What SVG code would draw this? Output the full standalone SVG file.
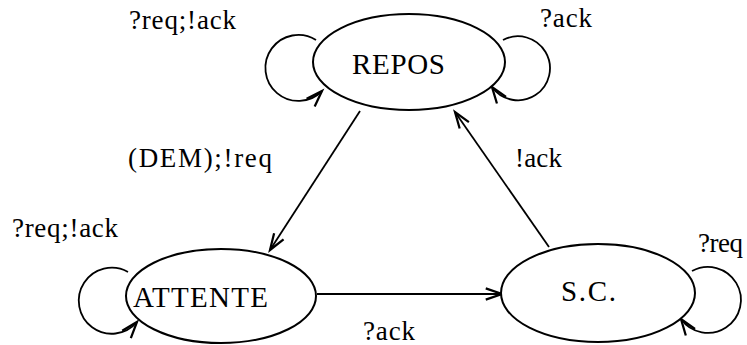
<svg xmlns="http://www.w3.org/2000/svg" width="747" height="345" viewBox="0 0 747 345">
<style>
.node{fill:#fff;stroke:#000;stroke-width:2}
.edge{fill:none;stroke:#000;stroke-width:1.8;marker-end:url(#arr)}
text{font-family:'Liberation Serif','DejaVu Serif','Times New Roman',serif;fill:#000}
.nt{font-size:29px}
.lt{font-size:27px}
</style>
<defs>
<marker id="arr" markerUnits="userSpaceOnUse" markerWidth="20" markerHeight="20" refX="0" refY="0" viewBox="-14 -8 16 16" orient="auto" overflow="visible">
<path d="M-13,-4.5 L0,0 L-13,4.5" fill="none" stroke="#000" stroke-width="1.8"/>
</marker>
</defs>
<rect width="747" height="345" fill="#fff"/>
<g id="connectors">
<path class="edge" d="M316,40 A33,33 0 1 0 322,91"/>
<path class="edge" d="M503,40 A32,32 0 1 1 492,87"/>
<path class="edge" d="M128,272 A33,33 0 1 0 137,322"/>
<path class="edge" d="M692,271 A33,33 0 1 1 681,319"/>
<path class="edge" d="M360,111 L270,250"/>
<path class="edge" d="M549,247 L455,112"/>
<path class="edge" d="M317,294 L502,294"/>
</g>
<g id="labels">
<text class="lt" font-family="Liberation Serif, serif" x="129" y="29" textLength="107" lengthAdjust="spacing">?req;!ack</text>
<text class="lt" font-family="Liberation Serif, serif" x="540" y="27" textLength="52" lengthAdjust="spacing">?ack</text>
<text class="lt" font-family="Liberation Serif, serif" x="128" y="167" textLength="144" lengthAdjust="spacing">(DEM);!req</text>
<text class="lt" font-family="Liberation Serif, serif" x="515" y="167" textLength="47" lengthAdjust="spacing">!ack</text>
<text class="lt" font-family="Liberation Serif, serif" x="12" y="237" textLength="106" lengthAdjust="spacing">?req;!ack</text>
<text class="lt" font-family="Liberation Serif, serif" x="698" y="252" textLength="45" lengthAdjust="spacing">?req</text>
<text class="lt" font-family="Liberation Serif, serif" x="363" y="340" textLength="52" lengthAdjust="spacing">?ack</text>
</g>
<g id="REPOS">
<ellipse class="node" cx="409" cy="62" rx="96" ry="48"/>
<text class="nt" font-family="Liberation Serif, serif" x="352" y="74" textLength="93" lengthAdjust="spacing">REPOS</text>
</g>
<g id="ATTENTE">
<ellipse class="node" cx="221" cy="296" rx="95" ry="47"/>
<text class="nt" font-family="Liberation Serif, serif" x="133" y="307" textLength="135" lengthAdjust="spacing">ATTENTE</text>
</g>
<g id="SC">
<ellipse class="node" cx="598" cy="293" rx="97" ry="49"/>
<text class="nt" font-family="Liberation Serif, serif" x="561" y="301" textLength="55" lengthAdjust="spacing">S.C.</text>
</g>
</svg>
